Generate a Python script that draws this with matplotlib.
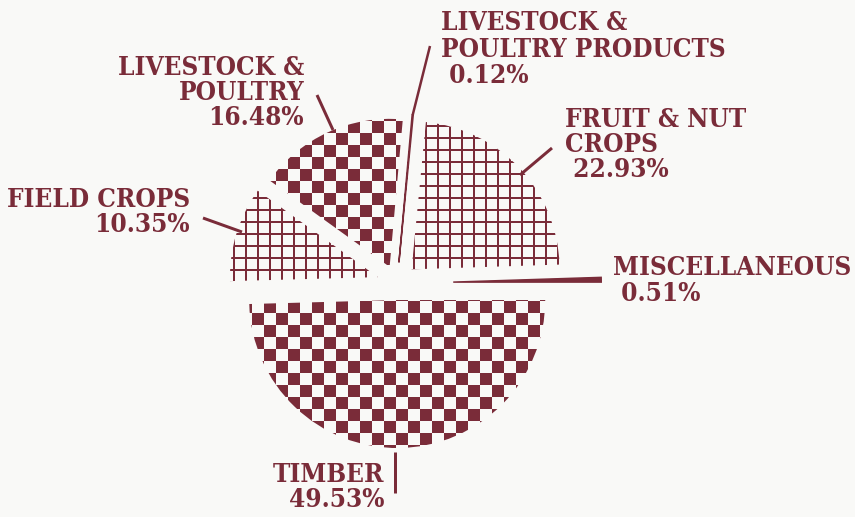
import numpy as np
import matplotlib.pyplot as plt
from matplotlib.colors import ListedColormap

# shares of farm income, counter-clockwise starting at 3 o'clock
labels = ["MISCELLANEOUS\n 0.51%", "FRUIT & NUT\nCROPS\n 22.93%",
          "LIVESTOCK &\nPOULTRY PRODUCTS\n 0.12%", "LIVESTOCK &\nPOULTRY\n16.48%",
          "FIELD CROPS\n10.35%", "TIMBER\n49.53%"]
shares = [0.51, 22.93, 0.12, 16.48, 10.35, 49.53]
explode = [0.38, 0.135, 0.14, 0.12, 0.135, 0.115]  # fraction of radius
fills = ["solid", "grid", "solid", "checker", "grid", "checker"]

maroon = "#7a2c39"
bg = "#f9f9f7"

plt.rcParams["hatch.linewidth"] = 2.0
plt.rcParams["hatch.color"] = maroon

W, H = 855, 517
R = 148
fig = plt.figure(figsize=(W / 72, H / 72), dpi=72, facecolor=bg)
ax = fig.add_axes([0, 0, 1, 1])
ax.set_facecolor(bg)

# pie explode is in data units, so scale by radius
wedges, _ = ax.pie(shares, explode=[e * R for e in explode], startangle=0,
                   center=(397, H - 283), radius=R, frame=True)

# checkerboard texture, 12px squares
sq = 12
ny, nx = H // sq + 2, W // sq + 2
board = (np.add.outer(np.arange(ny), np.arange(nx)) % 2).astype(float)
cmap = ListedColormap([bg, maroon])

for w, f in zip(wedges, fills):
    if f == "solid":
        w.set_facecolor(maroon)
        w.set_edgecolor(maroon)
        w.set_linewidth(1.5)
    elif f == "grid":
        w.set_facecolor(bg)
        w.set_edgecolor(maroon)
        w.set_linewidth(0)
        w.set_hatch("+")
    else:
        w.set_facecolor("none")
        w.set_linewidth(0)
        im = ax.imshow(board, cmap=cmap, interpolation="nearest", origin="lower",
                       extent=(0, nx * sq, 0, ny * sq), zorder=w.get_zorder() + 0.1)
        im.set_clip_path(w)

font = dict(family="DejaVu Serif", fontstretch="condensed", fontweight="bold",
            fontsize=26, color=maroon)

def y(v):
    return H - v

# labels (placed from the picture)
ax.text(304, y(55), labels[3], ha="right", va="top", multialignment="right", linespacing=1.0, **font)
ax.text(441, y(10), labels[2], ha="left", va="top", linespacing=1.08, **font)
ax.text(565, y(107), labels[1], ha="left", va="top", linespacing=1.0, **font)
ax.text(190, y(187), labels[4], ha="right", va="top", multialignment="right", linespacing=1.0, **font)
ax.text(613, y(255), labels[0], ha="left", va="top", linespacing=1.05, **font)
ax.text(384, y(462), labels[5], ha="right", va="top", multialignment="right", linespacing=1.0, **font)

# leader lines
lead = dict(color=maroon, lw=3, solid_capstyle="butt")
ax.plot([317, 333], [y(95), y(130)], **lead)
ax.plot([552, 520], [y(148), y(175)], **lead)
ax.plot([203, 242], [y(218), y(232)], **lead)
ax.plot([395, 395], [y(452), y(493)], **lead)

# products wedge continues up to its label
p = wedges[2]
ang = np.deg2rad((p.theta1 + p.theta2) / 2)
tip = (p.center[0] + p.r * np.cos(ang), p.center[1] + p.r * np.sin(ang))
ax.plot([tip[0], 430], [tip[1], y(46)], color=maroon, lw=2.5, solid_capstyle="butt")

ax.set_xlim(0, W)
ax.set_ylim(0, H)
ax.set_aspect("equal")
ax.axis("off")

fig.savefig("out.png", dpi=72, facecolor=bg)
